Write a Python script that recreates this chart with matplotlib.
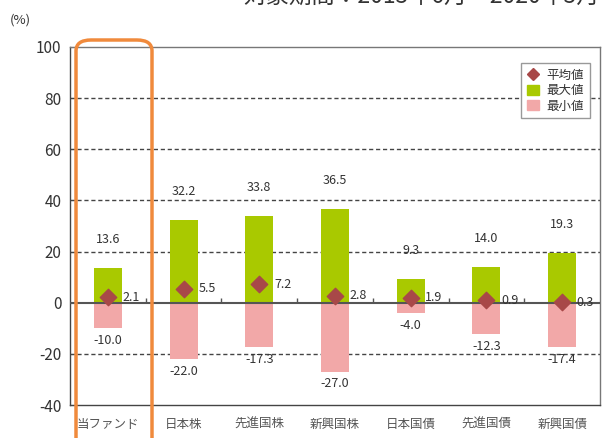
import numpy as np
import matplotlib.pyplot as plt
from matplotlib.lines import Line2D
from matplotlib.patches import Patch, FancyBboxPatch

plt.rcParams['font.family'] = ['Noto Sans CJK JP', 'DejaVu Sans']

categories = ['当ファンド', '日本株', '先進国株', '新興国株', '日本国債', '先進国債', '新興国債']
max_vals = [13.6, 32.2, 33.8, 36.5, 9.3, 14.0, 19.3]
min_vals = [-10.0, -22.0, -17.3, -27.0, -4.0, -12.3, -17.4]
avg_vals = [2.1, 5.5, 7.2, 2.8, 1.9, 0.9, 0.3]
yticks = [100, 80, 60, 40, 20, 0, -20, -40]

green = '#A9C900'
pink = '#F2A8A8'
red = '#A84848'
txt = '#333333'

fig = plt.figure(figsize=(6.03, 4.38), dpi=100)
ax = fig.add_axes([0.116, 0.075, 0.879, 0.818])

x = np.arange(len(categories))
w = 0.37
ax.bar(x, max_vals, width=w, color=green, zorder=2)
ax.bar(x, min_vals, width=w, color=pink, zorder=2)
ax.scatter(x, avg_vals, marker='D', s=70, color=red, zorder=4)

ax.set_xlim(-0.5, len(categories) - 0.5)
ax.set_ylim(-40, 100)
ax.set_yticks(yticks)
ax.set_yticklabels([str(v) for v in yticks], fontsize=11, color=txt)
ax.set_xticks(x)
ax.set_xticklabels(categories, fontsize=9, color='#555555')
ax.tick_params(axis='x', length=0, pad=9)
ax.tick_params(axis='y', direction='in', length=4, color='#444444', pad=6)

for v in [80, 60, 40, 20, -20]:
    ax.axhline(v, color='#444444', lw=1, ls=(0, (3, 2)), zorder=1)
ax.axhline(0, color='#555555', lw=1.5, zorder=3)
ax.vlines(x[:-1] + 0.5, 0, 1.8, color='#555555', lw=1, zorder=3)

for s in ax.spines.values():
    s.set_color('#777777')
    s.set_linewidth(1)
ax.spines['left'].set_color('#444444')
ax.spines['bottom'].set_color('#444444')

for i in range(len(categories)):
    ax.annotate(f'{max_vals[i]:.1f}', (x[i], max_vals[i]), xytext=(0, 16),
                textcoords='offset points', ha='center', va='bottom',
                fontsize=9, color=txt)
    ax.annotate(f'{min_vals[i]:.1f}', (x[i], min_vals[i]), xytext=(0, -4),
                textcoords='offset points', ha='center', va='top',
                fontsize=9, color=txt)
    ax.annotate(f'{avg_vals[i]:.1f}', (x[i] + w / 2, avg_vals[i]), xytext=(0.5, 0),
                textcoords='offset points', ha='left', va='center',
                fontsize=9, color=txt)

handles = [Line2D([], [], marker='D', ls='none', color=red, markersize=6),
           Patch(color=green), Patch(color=pink)]
leg = ax.legend(handles, ['平均値', '最大値', '最小値'], loc='upper right',
                bbox_to_anchor=(0.981, 0.955), fontsize=9, fancybox=False,
                edgecolor='#999999', framealpha=1, handlelength=1.0,
                handleheight=0.8, handletextpad=0.6, borderpad=0.45,
                labelspacing=0.2, borderaxespad=0)
for t in leg.get_texts():
    t.set_color(txt)

fig.text(10 / 603, 1 - 20 / 438, '(%)', fontsize=9.5, color=txt, ha='left', va='center')
fig.text(600 / 603, 1 + 4 / 438, '対象期間：2015年6月～2020年5月', fontsize=16.5,
         color=txt, ha='right', va='center')

box = FancyBboxPatch((76 / 603, -0.05), 76 / 603, 1 - 40 / 438 + 0.05,
                     boxstyle='round,pad=0,rounding_size=0.025',
                     transform=fig.transFigure, facecolor='none',
                     edgecolor='#F08A3C', lw=2.5, clip_on=False, zorder=10)
fig.patches.append(box)

fig.savefig('out.png', dpi=100)
